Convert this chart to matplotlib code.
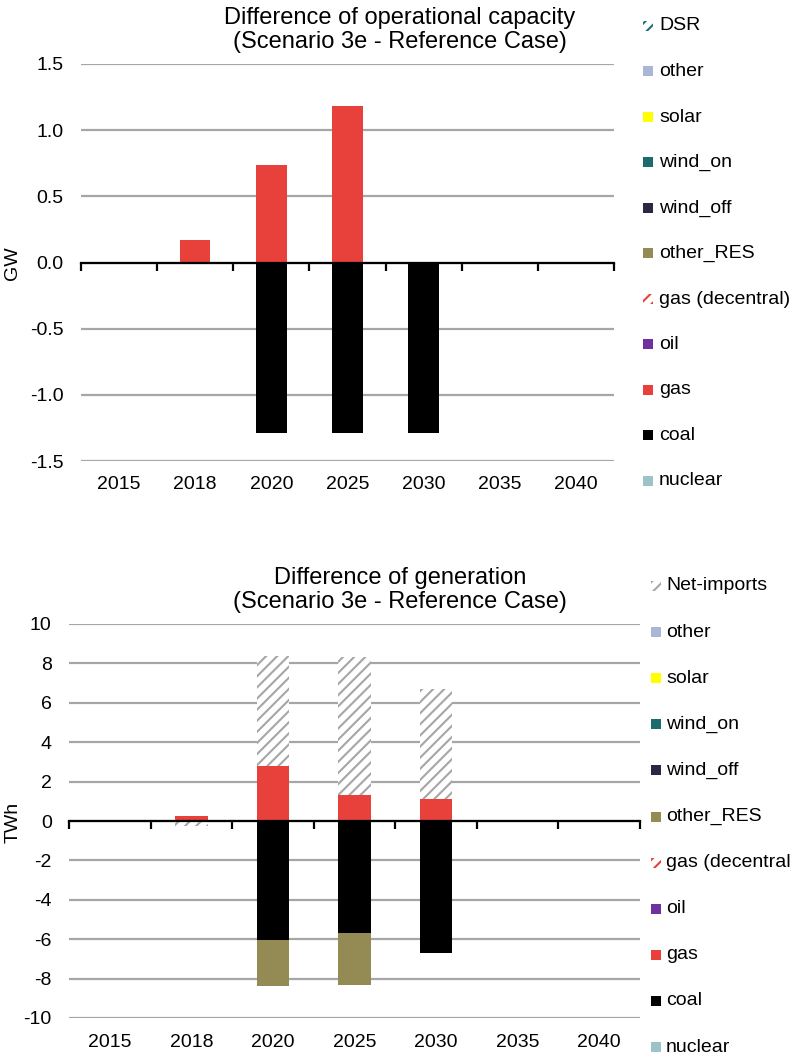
"""Scenario 3e vs reference case: capacity and generation differences."""

import matplotlib

matplotlib.use("Agg")
import matplotlib.pyplot as plt
import numpy as np
from matplotlib.patches import Rectangle
from matplotlib.ticker import FixedLocator, FormatStrFormatter
from matplotlib.transforms import blended_transform_factory

plt.rcParams["font.family"] = ["Liberation Sans", "DejaVu Sans"]
plt.rcParams["axes.unicode_minus"] = False
plt.rcParams["hatch.linewidth"] = 1.5

W, H = 791, 1057

YEARS = ["2015", "2018", "2020", "2025", "2030", "2035", "2040"]

# capacity difference, GW
CAP_COAL = [0, 0, -1.29, -1.29, -1.29, 0, 0]
CAP_GAS = [0, 0.17, 0.74, 1.18, 0, 0, 0]

# generation difference, TWh
GEN_COAL = [0, 0, -6.03, -5.68, -6.71, 0, 0]
GEN_GAS = [0, 0.25, 2.78, 1.31, 1.10, 0, 0]
GEN_OTHER_RES = [0, 0, -2.33, -2.64, 0, 0, 0]
GEN_NET_IMPORTS = [0, -0.24, 5.59, 7.03, 5.61, 0, 0]

LEGEND_CAP = ["DSR", "other", "solar", "wind_on", "wind_off", "other_RES",
              "gas (decentral)", "oil", "gas", "coal", "nuclear"]
LEGEND_GEN = ["Net-imports", "other", "solar", "wind_on", "wind_off", "other_RES",
              "gas (decentral)", "oil", "gas", "coal", "nuclear"]

COLORS = {
    "DSR": "#1F6F78",
    "Net-imports": "#A6A6A6",
    "other": "#A9B7D6",
    "solar": "#FFFF00",
    "wind_on": "#1C6B6E",
    "wind_off": "#2D2546",
    "other_RES": "#948A54",
    "gas (decentral)": "#E8403A",
    "oil": "#7030A0",
    "gas": "#E8403A",
    "coal": "#000000",
    "nuclear": "#9CC3C6",
}
HATCHED = {"DSR", "Net-imports", "gas (decentral)"}
HATCH = "///"


def px_rect(left, top, right, bottom):
    return [left / W, 1 - bottom / H, (right - left) / W, (bottom - top) / H]


def stacked_bars(ax, series):
    x = np.arange(len(YEARS))
    pos = np.zeros(len(YEARS))
    neg = np.zeros(len(YEARS))
    for name, values in series:
        v = np.asarray(values, dtype=float)
        base = np.where(v >= 0, pos, neg)
        if name in HATCHED:
            ax.bar(x, v, 0.4, bottom=base, facecolor="white",
                   edgecolor=COLORS[name], hatch=HATCH, linewidth=0, zorder=2)
        else:
            ax.bar(x, v, 0.4, bottom=base, color=COLORS[name], linewidth=0, zorder=2)
        pos += np.where(v > 0, v, 0)
        neg += np.where(v < 0, v, 0)


def style_axes(ax, ylim, yticks, fmt, label_y):
    ax.set_xlim(-0.5, len(YEARS) - 0.5)
    ax.set_ylim(*ylim)
    ax.set_yticks(yticks)
    ax.yaxis.set_major_formatter(FormatStrFormatter(fmt))
    ax.yaxis.grid(True, color="#A6A6A6", linewidth=1.6)
    ax.set_axisbelow(True)
    for side in ("left", "right", "top"):
        ax.spines[side].set_visible(False)
    ax.spines["bottom"].set_position(("data", 0))
    ax.spines["bottom"].set_linewidth(1.6)
    ax.spines["bottom"].set_zorder(3)
    ax.set_xticks(np.arange(len(YEARS)))
    ax.xaxis.set_minor_locator(FixedLocator(np.arange(-0.5, len(YEARS), 1.0)))
    ax.tick_params(axis="x", which="major", length=0, labelbottom=False)
    ax.tick_params(axis="x", which="minor", length=6, width=1.6, direction="out")
    ax.tick_params(axis="y", length=0, pad=12.5, labelsize=14)
    trans = blended_transform_factory(ax.transData, ax.transAxes)
    for i, year in enumerate(YEARS):
        ax.text(i, label_y, year, transform=trans, ha="center", va="center",
                fontsize=14)


def draw_legend(fig, labels, x_marker, x_text, y_first, step):
    for i, name in enumerate(labels):
        yc = y_first + i * step
        if name in HATCHED:
            patch = Rectangle((x_marker / W, 1 - (yc + 5) / H), 10 / W, 10 / H,
                              transform=fig.transFigure, facecolor="white",
                              edgecolor=COLORS[name], hatch=HATCH, linewidth=0)
        else:
            patch = Rectangle((x_marker / W, 1 - (yc + 5) / H), 10 / W, 10 / H,
                              transform=fig.transFigure, facecolor=COLORS[name],
                              linewidth=0)
        fig.add_artist(patch)
        fig.text(x_text / W, 1 - yc / H, name, ha="left", va="center", fontsize=14)


fig = plt.figure(figsize=(W / 100, H / 100), dpi=100)

# capacity
ax1 = fig.add_axes(px_rect(81, 64, 614, 461))
stacked_bars(ax1, [("coal", CAP_COAL), ("gas", CAP_GAS)])
style_axes(ax1, (-1.5, 1.5), np.arange(-1.5, 1.51, 0.5), "%.1f", -0.058)
fig.text(400 / W, 1 - 30 / H,
         "Difference of operational capacity\n(Scenario 3e - Reference Case)",
         ha="center", va="center", fontsize=17, linespacing=1.15)
fig.text(13 / W, 1 - 263 / H, "GW", rotation=90, ha="center", va="center", fontsize=14)
draw_legend(fig, LEGEND_CAP, 643, 659, 26, 45.5)

# generation
ax2 = fig.add_axes(px_rect(69, 624, 640, 1018))
stacked_bars(ax2, [("coal", GEN_COAL), ("gas", GEN_GAS),
                   ("other_RES", GEN_OTHER_RES), ("Net-imports", GEN_NET_IMPORTS)])
style_axes(ax2, (-10, 10), np.arange(-10, 10.1, 2), "%d", -0.061)
fig.text(400 / W, 1 - 590 / H,
         "Difference of generation\n(Scenario 3e - Reference Case)",
         ha="center", va="center", fontsize=17, linespacing=1.15)
fig.text(13 / W, 1 - 822 / H, "TWh", rotation=90, ha="center", va="center", fontsize=14)
draw_legend(fig, LEGEND_GEN, 651, 666, 586, 46.1)

fig.savefig("out.png", dpi=100)
